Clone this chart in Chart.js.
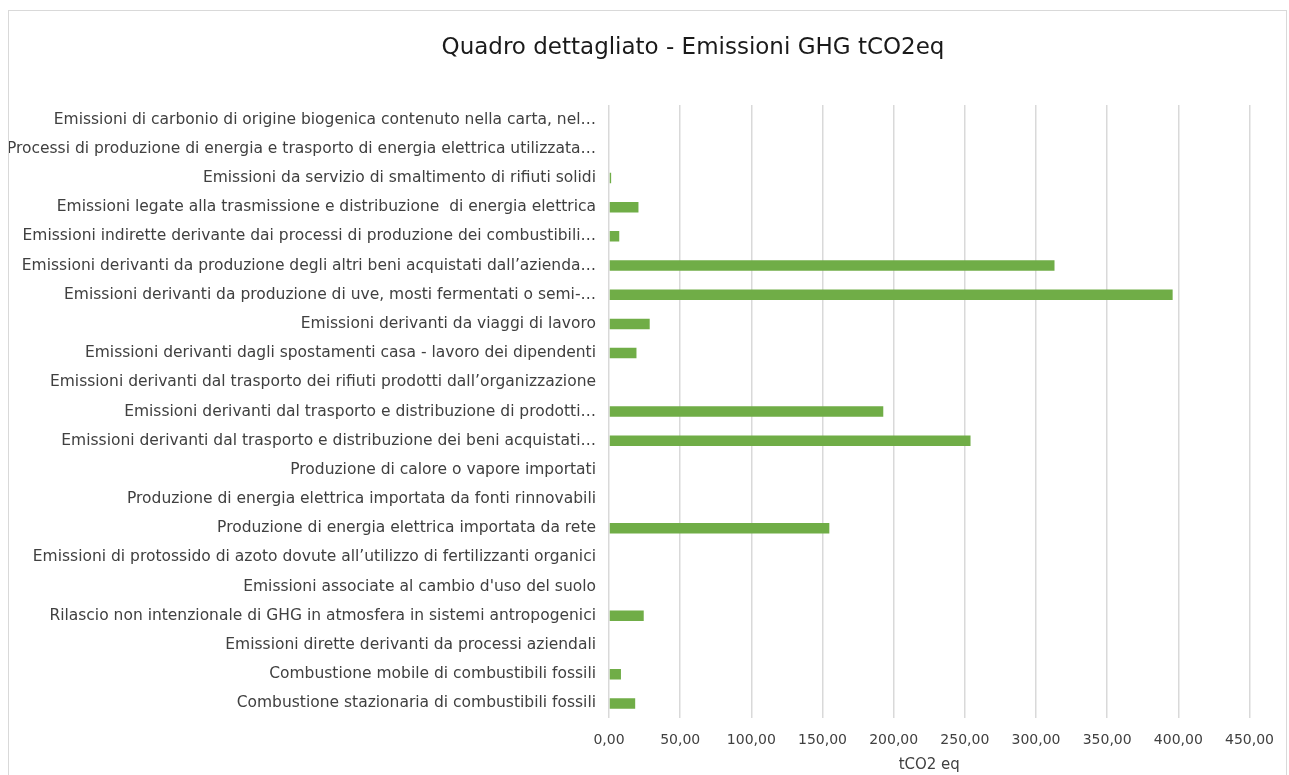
<!DOCTYPE html>
<html>
<head>
<meta charset="utf-8">
<script src="https://cdn.jsdelivr.net/npm/chart.js@4"></script>
<style>
    html, body { margin: 0; padding: 0; background: #fff; }
    #wrap { position: relative; width: 1289px; height: 775px; }
    #frame { position: absolute; left: 8px; top: 10px; width: 1279px; height: 770px; border: 1px solid #d9d9d9; box-sizing: border-box; pointer-events: none; }
</style>
</head>
<body>
<div id="wrap">
    <canvas id="ghg" width="1289" height="775"></canvas>
    <div id="frame"></div>
</div>
<script>
// Categorie (dall'alto verso il basso)
const categories = [
    'Emissioni di carbonio di origine biogenica contenuto nella carta, nel…',
    'Processi di produzione di energia e trasporto di energia elettrica utilizzata…',
    'Emissioni da servizio di smaltimento di rifiuti solidi',
    'Emissioni legate alla trasmissione e distribuzione  di energia elettrica',
    'Emissioni indirette derivante dai processi di produzione dei combustibili…',
    'Emissioni derivanti da produzione degli altri beni acquistati dall\u2019azienda…',
    'Emissioni derivanti da produzione di uve, mosti fermentati o semi-…',
    'Emissioni derivanti da viaggi di lavoro',
    'Emissioni derivanti dagli spostamenti casa - lavoro dei dipendenti',
    'Emissioni derivanti dal trasporto dei rifiuti prodotti dall\u2019organizzazione',
    'Emissioni derivanti dal trasporto e distribuzione di prodotti…',
    'Emissioni derivanti dal trasporto e distribuzione dei beni acquistati…',
    'Produzione di calore o vapore importati',
    'Produzione di energia elettrica importata da fonti rinnovabili',
    'Produzione di energia elettrica importata da rete',
    'Emissioni di protossido di azoto dovute all\u2019utilizzo di fertilizzanti organici',
    'Emissioni associate al cambio d\'uso del suolo',
    'Rilascio non intenzionale di GHG in atmosfera in sistemi antropogenici',
    'Emissioni dirette derivanti da processi aziendali',
    'Combustione mobile di combustibili fossili',
    'Combustione stazionaria di combustibili fossili',
];

// Valori tCO2eq (stimati dal grafico)
const emissions = [0, 0, 1.5, 20.7, 7.2, 313, 396, 28.6, 19.3, 0, 192.7, 254, 0, 0, 154.8, 0, 0, 24.4, 0, 8.4, 18.4];

// Tick asse X
const xMin = 0;
const xMax = 450;
const xStep = 50;

const FONT = "'DejaVu Sans', sans-serif";
const TEXT = '#404040';
const TITLE = 'Quadro dettagliato - Emissioni GHG tCO2eq';

const fmt = v => Number(v).toFixed(2).replace('.', ',');

// titolo disegnato a mano, centrato come nell'originale
const titlePlugin = {
    id: 'titolo',
    afterDraw(chart) {
        const ctx = chart.ctx;
        ctx.save();
        ctx.font = `23px ${FONT}`;
        ctx.fillStyle = '#1a1a1a';
        ctx.textAlign = 'center';
        ctx.textBaseline = 'middle';
        ctx.fillText(TITLE, 693, 48);
        ctx.restore();
    },
};

new Chart(document.getElementById('ghg'), {
    type: 'bar',
    data: {
        labels: categories,
        datasets: [{
            label: 'tCO2 eq',
            data: emissions,
            backgroundColor: '#70ad47',
            borderWidth: 0,
            categoryPercentage: 1,
            barPercentage: 0.36,
        }]
    },
    plugins: [titlePlugin],
    options: {
        indexAxis: 'y',
        responsive: false,
        animation: false,
        layout: { padding: { left: 0, right: 36, top: 105, bottom: 2 } },
        plugins: {
            legend: { display: false },
            tooltip: { enabled: false },
            title: { display: false },
        },
        scales: {
            x: {
                min: xMin,
                max: xMax,
                ticks: {
                    stepSize: xStep,
                    color: TEXT,
                    font: { family: FONT, size: 14, lineHeight: 1 },
                    padding: 15,
                    callback: v => fmt(v),
                },
                grid: { color: '#d9d9d9', lineWidth: 1.5, drawTicks: false },
                border: { display: false },
                title: {
                    display: true,
                    text: 'tCO2 eq',
                    color: TEXT,
                    font: { family: FONT, size: 15, lineHeight: 1 },
                    padding: { top: 0, bottom: 0 },
                },
                afterFit(scale) { scale.height = 55; },
            },
            y: {
                ticks: {
                    autoSkip: false,
                    color: TEXT,
                    font: { family: FONT, size: 15.5 },
                    padding: 13,
                },
                grid: { display: false, drawTicks: false },
                border: { display: false },
                afterFit(scale) { scale.width = 609; },
            },
        },
    },
});
</script>
</body>
</html>
